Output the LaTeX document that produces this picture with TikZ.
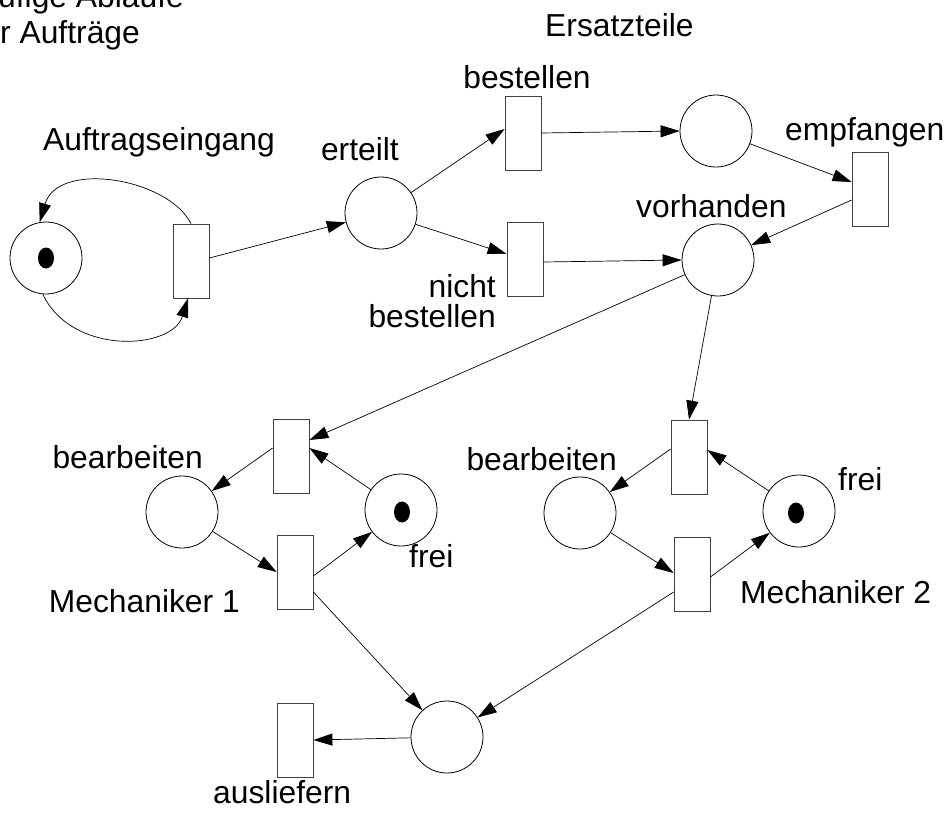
\documentclass[tikz,border=0pt]{standalone}
\usepackage{fontspec}
\setmainfont{Liberation Sans}
\usetikzlibrary{arrows.meta,shapes.geometric}
\begin{document}
\begin{tikzpicture}[x=1pt,y=-1pt,
  place/.style={circle,draw,line width=0.8pt,minimum size=72pt,inner sep=0pt},
  trans/.style={rectangle,draw=black!75,line width=0.8pt,minimum width=36pt,minimum height=74pt,inner sep=0pt},
  token/.style={ellipse,fill=black,minimum width=16pt,minimum height=21pt,inner sep=0pt},
  arc/.style={-{Triangle[length=19pt,width=12pt]},line width=0.7pt},
  lbl/.style={inner sep=0pt,font=\fontsize{31.8}{36}\selectfont}]
\useasboundingbox (0,0) rectangle (947,817);
% places
\node[place] (P0) at (46,258) {};
\node[token] (K0) at (46,258) {};
\node[place] (Perteilt) at (381,213) {};
\node[place] (Ptop) at (716,131) {};
\node[place] (Pvorh) at (718,260) {};
\node[place] (Pb1) at (182,512) {};
\node[place] (Pf1) at (401,510) {};
\node[token] (K1) at (402,512) {};
\node[place] (Pb2) at (580,513) {};
\node[place] (Pf2) at (799,511) {};
\node[token] (K2) at (796,513) {};
\node[place] (Pout) at (447,737) {};
% transitions
\node[trans] (T0) at (191,261) {};
\node[trans] (Tbest) at (523,133) {};
\node[trans] (Tnicht) at (525,259) {};
\node[trans] (Temp) at (870,189) {};
\node[trans] (T1) at (291,456) {};
\node[trans] (T2) at (295,572) {};
\node[trans] (T3) at (689,457) {};
\node[trans] (T4) at (692,574) {};
\node[trans] (Taus) at (295,740) {};
% labels
\node[lbl,anchor=base west] (L0) at (-2,7) {ufige Abläufe};
\node[lbl,anchor=base west] (L1) at (0,43) {r Aufträge};
\node[lbl,anchor=base west] (L2) at (545,36) {Ersatzteile};
\node[lbl,anchor=base] (L3) at (527,88) {bestellen};
\node[lbl,anchor=base west] (L4) at (43,150) {Auftragseingang};
\node[lbl,anchor=base east] (L5) at (399,160) {erteilt};
\node[lbl,anchor=base west] (L6) at (636,217) {vorhanden};
\node[lbl,anchor=base west] (L7) at (785,140) {empfangen};
\node[lbl,anchor=base east] (L8) at (496,297) {nicht};
\node[lbl,anchor=base east] (L9) at (496,327) {bestellen};
\node[lbl,anchor=base east] (L10) at (203,468) {bearbeiten};
\node[lbl,anchor=base west] (L11) at (409,567) {frei};
\node[lbl,anchor=base east] (L12) at (240,612) {Mechaniker 1};
\node[lbl,anchor=base east] (L13) at (617,470) {bearbeiten};
\node[lbl,anchor=base west] (L14) at (838,490) {frei};
\node[lbl,anchor=base west] (L15) at (740,603) {Mechaniker 2};
\node[lbl,anchor=base west] (L16) at (213,803) {ausliefern};
% arcs
\draw[arc] (T0.north) .. controls (168,178) and (58,160) .. (P0.100);
\draw[arc] (P0.265) .. controls (72,356) and (172,350) .. ([xshift=-3pt]T0.south);
\draw[arc] ([yshift=3pt]T0.east) -- (Perteilt);
\draw[arc] (Perteilt) -- ([yshift=4pt]Tbest.west);
\draw[arc] (Perteilt) -- ([yshift=5pt]Tnicht.west);
\draw[arc] (Tbest.east) -- (Ptop.west);
\draw[arc] ([yshift=-3pt]Tnicht.east) -- (Pvorh.west);
\draw[arc] (Ptop) -- ([yshift=7pt]Temp.west);
\draw[arc] ([yshift=-11pt]Temp.west) -- (Pvorh);
\draw[arc] (Pvorh) -- ([yshift=16pt]T1.east);
\draw[arc] (Pvorh) -- (T3.north);
\draw[arc] ([yshift=8pt]T1.west) -- (Pb1);
\draw[arc] (Pb1) -- (T2.west);
\draw[arc] ([yshift=-4pt]T2.east) -- (Pf1);
\draw[arc] (Pf1) -- ([yshift=8pt]T1.east);
\draw[arc] ([yshift=-20pt]T2.east) -- (Pout);
\draw[arc] ([yshift=8pt]T3.west) -- (Pb2);
\draw[arc] (Pb2) -- ([yshift=1pt]T4.west);
\draw[arc] ([yshift=-3pt]T4.east) -- (Pf2);
\draw[arc] (Pf2) -- ([yshift=7pt]T3.east);
\draw[arc] ([yshift=-18pt]T4.west) -- (Pout);
\draw[arc] (Pout) -- (Taus.east);
\end{tikzpicture}
\end{document}
